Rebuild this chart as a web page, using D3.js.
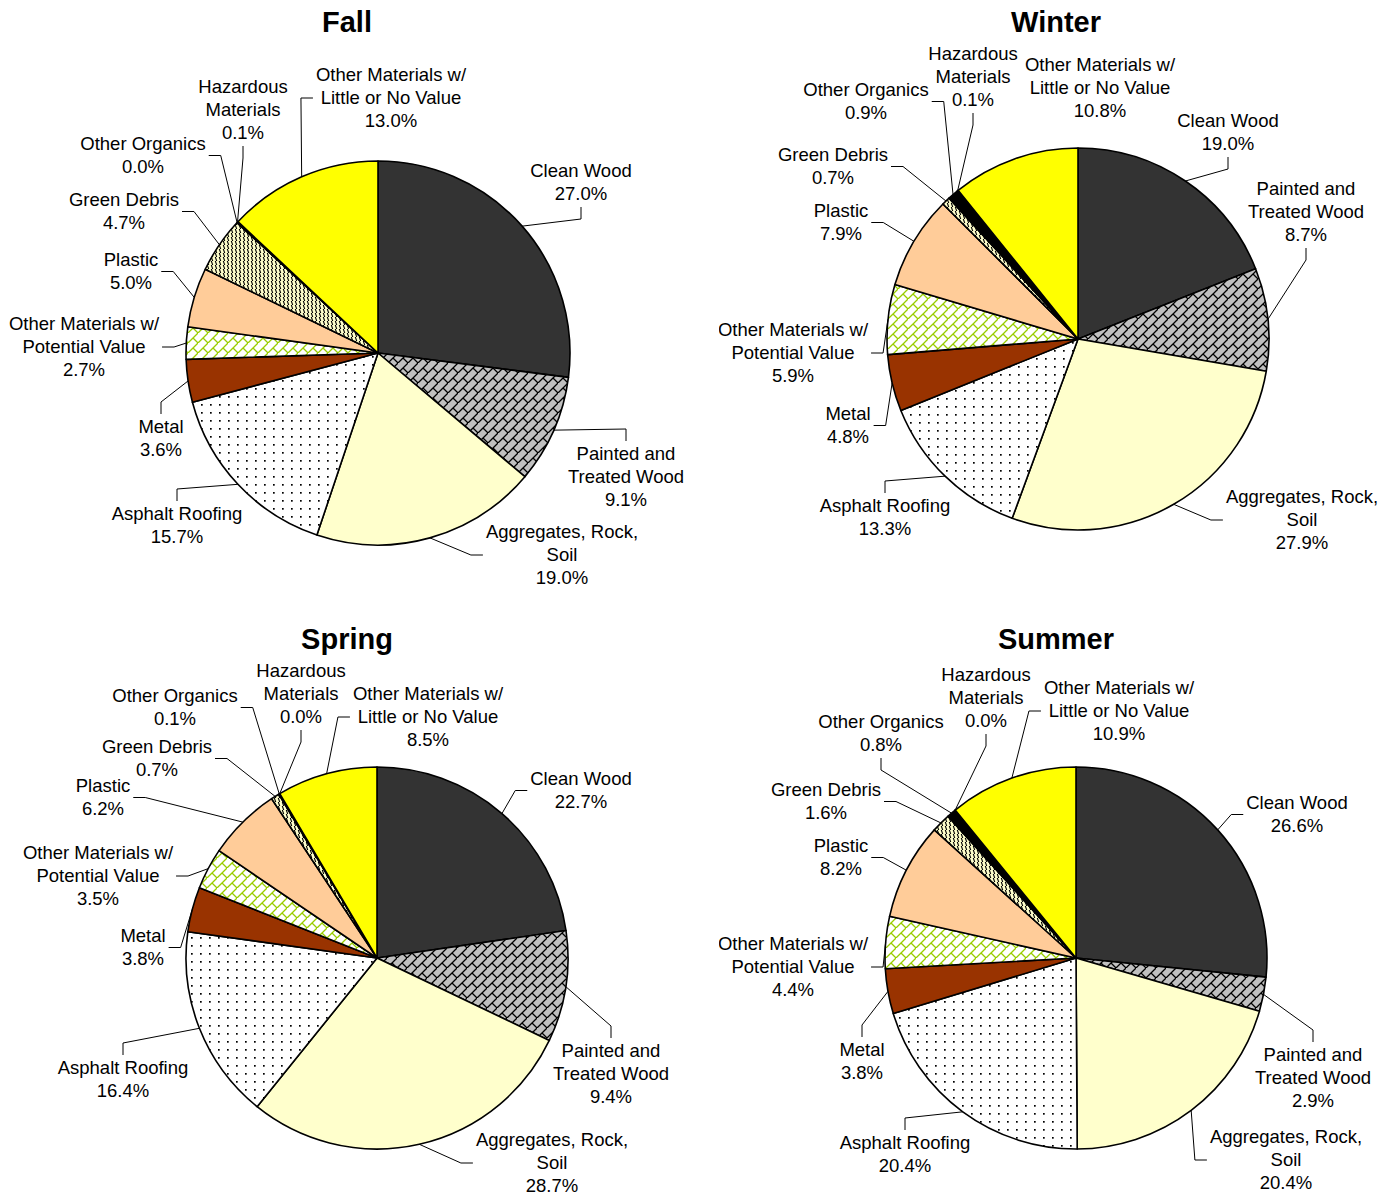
<!DOCTYPE html>
<html>
<head>
<meta charset="utf-8">
<script src="https://cdn.jsdelivr.net/npm/d3@7"></script>
<style>
  body { margin: 0; background: #fff; }
  text { font-family: "Liberation Sans", Arial, sans-serif; fill: #000; }
</style>
</head>
<body>
<svg id="chart" width="1392" height="1196"></svg>
<script>
// categories, clockwise from 12 o'clock
const categories = [
  "Clean Wood", "Painted and Treated Wood", "Aggregates, Rock, Soil", "Asphalt Roofing",
  "Metal", "Other Materials w/ Potential Value", "Plastic", "Green Debris",
  "Other Organics", "Hazardous Materials", "Other Materials w/ Little or No Value"
];
const labelLines = [
  ["Clean Wood"], ["Painted and", "Treated Wood"], ["Aggregates, Rock,", "Soil"], ["Asphalt Roofing"],
  ["Metal"], ["Other Materials w/", "Potential Value"], ["Plastic"], ["Green Debris"],
  ["Other Organics"], ["Hazardous", "Materials"], ["Other Materials w/", "Little or No Value"]
];
const seasons = ["Fall", "Winter", "Spring", "Summer"];
const fallValues   = [27.0, 9.1, 19.0, 15.7, 3.6, 2.7, 5.0, 4.7, 0.0, 0.1, 13.0];
const winterValues = [19.0, 8.7, 27.9, 13.3, 4.8, 5.9, 7.9, 0.7, 0.9, 0.1, 10.8];
const springValues = [22.7, 9.4, 28.7, 16.4, 3.8, 3.5, 6.2, 0.7, 0.1, 0.0, 8.5];
const summerValues = [26.6, 2.9, 20.4, 20.4, 3.8, 4.4, 8.2, 1.6, 0.8, 0.0, 10.9];

// layout: pie centre and label placement [cx, first line y, leader side]
const layout = {
  Fall: {cx: 378, cy: 353, r: 192, title: [347, 22], clip: null, labels: [
    [581,171,"b"],[626,454,"t"],[562,532,"l"],[177,514,"t"],[161,427,"t"],[84,324,"r"],
    [131,260,"r"],[124,200,"r"],[143,144,"r"],[243,87,"b"],[391,75,"l"]]},
  Winter: {cx: 1078, cy: 339, r: 191, title: [1056, 22], clip: 719, labels: [
    [1228,121,"b"],[1306,189,"b"],[1302,497,"l"],[885,506,"t"],[848,414,"r"],[793,330,"r"],
    [841,211,"r"],[833,155,"r"],[866,90,"r"],[973,54,"b"],[1100,65,null]]},
  Spring: {cx: 377, cy: 958, r: 191, title: [347, 639], clip: null, labels: [
    [581,779,"l"],[611,1051,"t"],[552,1140,"l"],[123,1068,"t"],[143,936,"r"],[98,853,"r"],
    [103,786,"r"],[157,747,"r"],[175,696,"r"],[301,671,"b"],[428,694,"l"]]},
  Summer: {cx: 1076, cy: 958, r: 191, title: [1056, 639], clip: 719, labels: [
    [1297,803,"l"],[1313,1055,"t"],[1286,1137,"l"],[905,1143,"t"],[862,1050,"t"],[793,944,"r"],
    [841,846,"r"],[826,790,"r"],[881,722,"b"],[986,675,"b"],[1119,688,"l"]]}
};
const valuesBySeason = {Fall: fallValues, Winter: winterValues, Spring: springValues, Summer: summerValues};

const svg = d3.select("#chart");
const defs = svg.append("defs");

// hatch fills similar to the spreadsheet ones
function brickPattern(id, bg, fg) {
  const s = 10;
  const p = defs.append("pattern").attr("id", id)
    .attr("patternUnits", "userSpaceOnUse").attr("width", s).attr("height", s);
  p.append("rect").attr("width", s).attr("height", s).attr("fill", bg);
  p.append("path")
    .attr("d", "M-1," + (s + 1) + "L" + (s + 1) + ",-1M" + (s / 2) + "," + (s / 2) + "L" + (s + 1) + "," + (s + 1))
    .attr("stroke", fg).attr("stroke-width", 1.3).attr("fill", "none");
}
brickPattern("brickGrey", "#C0C0C0", "#000");
brickPattern("brickGreen", "#FFFFFF", "#99CC00");

const dots = defs.append("pattern").attr("id", "dots")
  .attr("patternUnits", "userSpaceOnUse").attr("width", 9).attr("height", 8);
dots.append("rect").attr("width", 9).attr("height", 8).attr("fill", "#fff");
dots.append("rect").attr("x", 3).attr("y", 3).attr("width", 1.7).attr("height", 1.7).attr("fill", "#000");

const vlines = defs.append("pattern").attr("id", "vlines")
  .attr("patternUnits", "userSpaceOnUse").attr("width", 4).attr("height", 4);
vlines.append("rect").attr("width", 4).attr("height", 4).attr("fill", "#FFFFCC");
vlines.append("path").attr("d", "M1,-1L3,5").attr("stroke", "#000").attr("stroke-width", 1.1);

const fills = ["#333333", "url(#brickGrey)", "#FFFFCC", "url(#dots)", "#993300", "url(#brickGreen)",
               "#FFCC99", "url(#vlines)", "#000000", "#FF0000", "#FFFF00"];

const pie = d3.pie().sort(null).value(function(d) { return d; });
const fmt = d3.format(".1f");
const lineH = 23, fontSize = 18.5, stub = 12;

seasons.forEach(function(season) {
  const L = layout[season];
  const values = valuesBySeason[season];
  const arcs = pie(values);
  const arc = d3.arc().innerRadius(0).outerRadius(L.r);

  let g = svg.append("g");
  if (L.clip) {
    defs.append("clipPath").attr("id", "clip" + season)
      .append("rect").attr("x", L.clip).attr("y", 0).attr("width", 1392 - L.clip).attr("height", 1196);
    g.attr("clip-path", "url(#clip" + season + ")");
  }

  g.append("text")
    .attr("x", L.title[0]).attr("y", L.title[1]).attr("dy", "0.35em")
    .attr("text-anchor", "middle")
    .style("font-size", "29px").style("font-weight", "bold")
    .text(season);

  const pg = g.append("g").attr("transform", "translate(" + L.cx + "," + L.cy + ")");
  pg.selectAll("path.slice")
    .data(arcs)
    .enter().append("path")
      .attr("class", "slice")
      .attr("d", arc)
      .attr("fill", function(d, i) { return fills[i]; })
      .attr("stroke", "#000")
      .attr("stroke-width", 1.6)
      .attr("stroke-linejoin", "round");

  arcs.forEach(function(a, i) {
    const pos = L.labels[i];
    const lines = labelLines[i].concat([fmt(values[i]) + "%"]);
    const t = g.append("text")
      .attr("text-anchor", "middle")
      .style("font-size", fontSize + "px");
    lines.forEach(function(s, k) {
      t.append("tspan").attr("x", pos[0]).attr("y", pos[1] + k * lineH).attr("dy", "0.35em").text(s);
    });
    if (!pos[2]) return;

    let w = 0;
    t.selectAll("tspan").each(function() { w = Math.max(w, this.getComputedTextLength()); });
    const top = pos[1] - 11, bottom = pos[1] + (lines.length - 1) * lineH + 11;
    const mid = (top + bottom) / 2;
    const left = pos[0] - w / 2, right = pos[0] + w / 2;

    const ang = (a.startAngle + a.endAngle) / 2;
    const p0 = [L.cx + L.r * Math.sin(ang), L.cy - L.r * Math.cos(ang)];
    let anchor, elbow;
    if (pos[2] === "b") { anchor = [pos[0], bottom + 2]; elbow = [pos[0], bottom + 2 + stub]; }
    if (pos[2] === "t") { anchor = [pos[0], top - 2]; elbow = [pos[0], top - 2 - stub]; }
    if (pos[2] === "l") { anchor = [left - 3, mid]; elbow = [left - 3 - stub, mid]; }
    if (pos[2] === "r") { anchor = [right + 3, mid]; elbow = [right + 3 + stub, mid]; }

    g.append("path")
      .attr("d", d3.line()([p0, elbow, anchor]))
      .attr("fill", "none")
      .attr("stroke", "#000")
      .attr("stroke-width", 1);
  });
});
</script>
</body>
</html>
